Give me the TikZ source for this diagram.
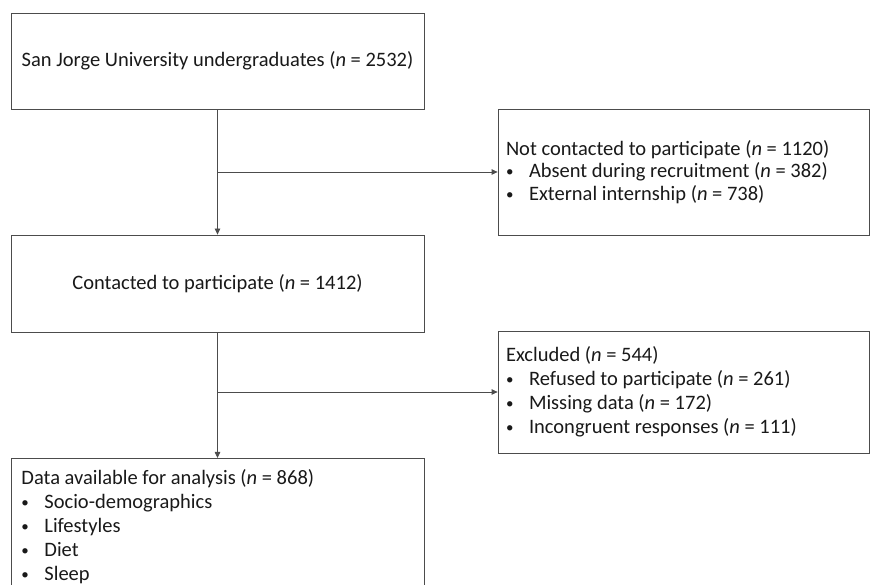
\documentclass[tikz,border=0pt]{standalone}
\usepackage{fontspec}
\setmainfont{Carlito}
\usetikzlibrary{arrows.meta}
\newcommand\bitem[1]{\makebox[23pt][l]{\raisebox{1pt}{\fontsize{15}{15}\selectfont\textbullet}}#1}
\begin{document}
\begin{tikzpicture}[x=1pt,y=-1pt,
  box/.style={draw=black!70, line width=0.8pt, inner sep=0pt, text=black!90, font=\fontsize{20.5}{24}\selectfont},
  arr/.style={draw=black!70, line width=0.8pt, -{Triangle[length=6pt,width=5.5pt]}},
  ln/.style={draw=black!70, line width=0.8pt}]
\clip (0,0) rectangle (871,585);
\node[box, minimum width=413pt, minimum height=96pt, align=center] (src) at (217.5,61)
  {San Jorge University undergraduates (\textit{n} = 2532)};
\node[box, minimum width=413pt, minimum height=97pt, align=center] (con) at (217.5,283.5)
  {Contacted to participate (\textit{n} = 1412)};
\node[box, anchor=north west, inner xsep=10pt, inner ysep=11pt] (dat) at (11,458)
  {\parbox[t][170pt][t]{393pt}{\fontsize{20.5}{24}\selectfont
   Data available for analysis (\textit{n} = 868)\\
   \bitem{Socio-demographics}\\
   \bitem{Lifestyles}\\
   \bitem{Diet}\\
   \bitem{Sleep}}};
\node[box, minimum width=371.5pt, minimum height=126pt, text width=355.5pt, inner xsep=8pt, align=flush left, font=\fontsize{20.5}{22.5}\selectfont] (nc) at (683.75,172)
  {Not contacted to participate (\textit{n} = 1120)\\
   \bitem{Absent during recruitment (\textit{n} = 382)}\\
   \bitem{External internship (\textit{n} = 738)}};
\node[box, minimum width=371.5pt, minimum height=122pt, text width=355.5pt, inner xsep=8pt, align=flush left] (exc) at (683.75,392)
  {\rule{0pt}{3pt}Excluded (\textit{n} = 544)\\
   \bitem{Refused to participate (\textit{n} = 261)}\\
   \bitem{Missing data (\textit{n} = 172)}\\
   \bitem{Incongruent responses (\textit{n} = 111)}};
\coordinate (b1) at (217.5,172);
\coordinate (b2) at (217.5,392);
\draw[arr] (src.south) -- (con.north);
\draw[arr] (con.south) -- (dat.north -| con.south);
\draw[arr] (b1) -- (nc.west);
\draw[arr] (b2) -- (exc.west);
\end{tikzpicture}
\end{document}
